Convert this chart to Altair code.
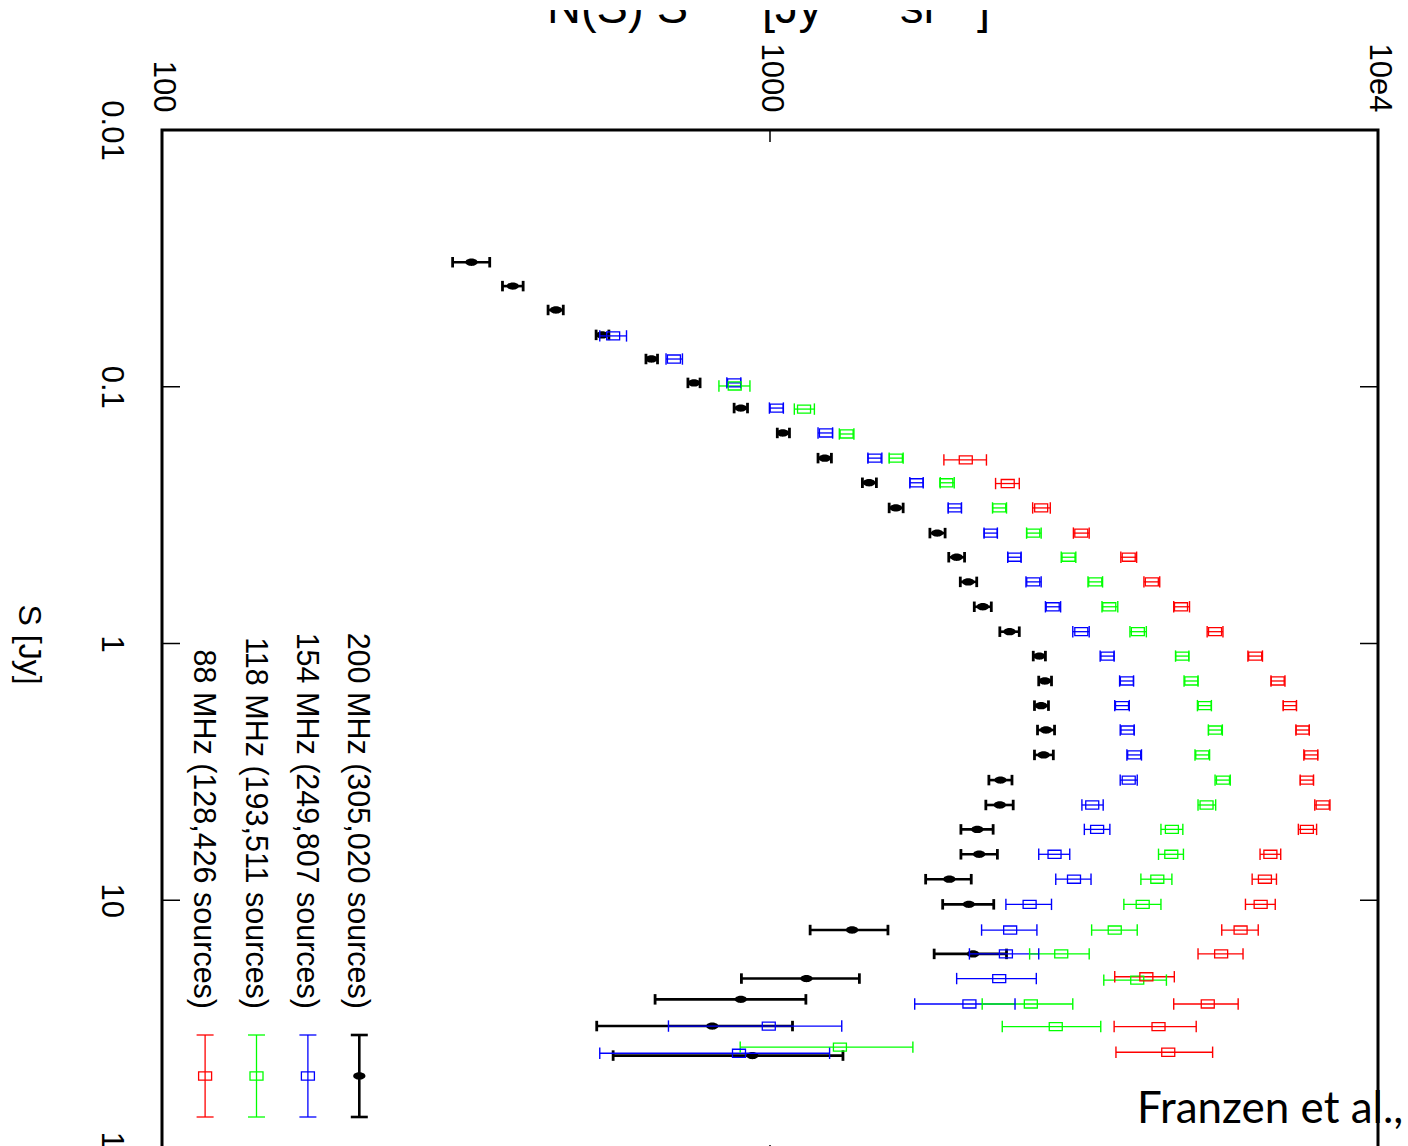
import altair as alt
import numpy as np
import pandas as pd

# Differential source counts (Euclidean-normalised), read as log10 values
BANDS = ["200 MHz", "154 MHz", "118 MHz", "88 MHz"]
SOURCES = ["305,020", "249,807", "193,511", "128,426"]
COLORS = ["#000000", "#0000ff", "#00ff00", "#ff0000"]

# 200 MHz
S200_LOGS = [-1.485, -1.392, -1.299, -1.202, -1.108, -1.015, -0.917, -0.820, -0.722, -0.626,
             -0.528, -0.430, -0.336, -0.240, -0.143, -0.046, 0.049, 0.146, 0.242, 0.337,
             0.434, 0.532, 0.629, 0.724, 0.821, 0.918, 1.016, 1.116, 1.209, 1.305,
             1.386, 1.490, 1.605]
S200_LOGN = [2.509, 2.577, 2.648, 2.724, 2.805, 2.875, 2.952, 3.021, 3.090, 3.163,
             3.207, 3.275, 3.307, 3.326, 3.350, 3.394, 3.443, 3.452, 3.446, 3.454,
             3.450, 3.379, 3.378, 3.341, 3.344, 3.295, 3.327, 3.135, 3.334, 3.060,
             2.952, 2.905, 2.971]
S200_LO = [2.478, 2.560, 2.635, 2.714, 2.796, 2.865, 2.941, 3.012, 3.079, 3.152,
           3.196, 3.263, 3.294, 3.313, 3.336, 3.378, 3.433, 3.442, 3.435, 3.440,
           3.435, 3.360, 3.355, 3.314, 3.314, 3.256, 3.284, 3.066, 3.270, 2.953,
           2.811, 2.715, 2.742]
S200_HI = [2.539, 2.594, 2.660, 2.735, 2.815, 2.885, 2.963, 3.032, 3.101, 3.175,
           3.219, 3.288, 3.320, 3.340, 3.364, 3.410, 3.453, 3.463, 3.458, 3.468,
           3.466, 3.398, 3.400, 3.367, 3.374, 3.331, 3.368, 3.194, 3.389, 3.147,
           3.059, 3.037, 3.120]

# 154 MHz
S154_LOGS = [-1.198, -1.108, -1.015, -0.917, -0.820, -0.722, -0.626, -0.528, -0.430, -0.336,
             -0.240, -0.143, -0.046, 0.049, 0.146, 0.242, 0.337, 0.434, 0.532, 0.629,
             0.724, 0.821, 0.918, 1.016, 1.116, 1.209, 1.305, 1.404, 1.490, 1.596]
S154_LOGN = [2.742, 2.842, 2.941, 3.011, 3.092, 3.172, 3.241, 3.304, 3.363, 3.402,
             3.433, 3.465, 3.512, 3.555, 3.587, 3.579, 3.588, 3.599, 3.590, 3.530,
             3.538, 3.468, 3.500, 3.427, 3.395, 3.388, 3.377, 3.328, 2.998, 2.949]
S154_LO = [2.720, 2.829, 2.929, 2.999, 3.079, 3.161, 3.230, 3.293, 3.352, 3.391,
           3.421, 3.453, 3.498, 3.543, 3.575, 3.567, 3.576, 3.587, 3.576, 3.513,
           3.517, 3.442, 3.470, 3.388, 3.348, 3.328, 3.307, 3.238, 2.833, 2.720]
S154_HI = [2.764, 2.856, 2.952, 3.022, 3.103, 3.184, 3.252, 3.315, 3.374, 3.413,
           3.446, 3.478, 3.525, 3.566, 3.598, 3.591, 3.599, 3.611, 3.604, 3.548,
           3.559, 3.493, 3.528, 3.463, 3.439, 3.442, 3.438, 3.403, 3.118, 3.098]

# 118 MHz
S118_LOGS = [-1.003, -0.913, -0.816, -0.722, -0.626, -0.528, -0.430, -0.336, -0.240, -0.143,
             -0.046, 0.049, 0.146, 0.242, 0.337, 0.434, 0.532, 0.629, 0.724, 0.821,
             0.918, 1.016, 1.116, 1.209, 1.311, 1.404, 1.492, 1.572]
S118_LOGN = [2.942, 3.056, 3.126, 3.207, 3.290, 3.377, 3.433, 3.491, 3.535, 3.558,
             3.605, 3.678, 3.693, 3.715, 3.732, 3.711, 3.745, 3.718, 3.661, 3.660,
             3.637, 3.613, 3.567, 3.479, 3.604, 3.429, 3.470, 3.115]
S118_LO = [2.916, 3.040, 3.114, 3.196, 3.280, 3.366, 3.422, 3.479, 3.523, 3.546,
           3.592, 3.667, 3.681, 3.703, 3.721, 3.699, 3.732, 3.704, 3.643, 3.639,
           3.610, 3.582, 3.529, 3.427, 3.549, 3.349, 3.382, 2.951]
S118_HI = [2.967, 3.073, 3.138, 3.219, 3.303, 3.389, 3.446, 3.503, 3.547, 3.572,
           3.619, 3.689, 3.704, 3.726, 3.744, 3.723, 3.757, 3.733, 3.679, 3.680,
           3.661, 3.643, 3.604, 3.525, 3.652, 3.498, 3.544, 3.235]

# 88 MHz
S88_LOGS = [-0.715, -0.623, -0.528, -0.430, -0.336, -0.240, -0.143, -0.046, 0.049, 0.146,
            0.242, 0.337, 0.434, 0.532, 0.629, 0.724, 0.821, 0.918, 1.016, 1.116,
            1.209, 1.298, 1.404, 1.492, 1.592]
S88_LOGN = [3.322, 3.391, 3.446, 3.512, 3.590, 3.628, 3.676, 3.732, 3.798, 3.835,
            3.855, 3.876, 3.890, 3.883, 3.909, 3.883, 3.823, 3.814, 3.807, 3.774,
            3.742, 3.619, 3.720, 3.639, 3.655]
S88_LO = [3.286, 3.371, 3.432, 3.499, 3.577, 3.615, 3.664, 3.719, 3.786, 3.824,
          3.844, 3.865, 3.878, 3.872, 3.896, 3.869, 3.806, 3.793, 3.782, 3.743,
          3.704, 3.567, 3.664, 3.566, 3.569]
S88_HI = [3.356, 3.410, 3.461, 3.525, 3.603, 3.641, 3.690, 3.745, 3.810, 3.847,
          3.866, 3.887, 3.901, 3.894, 3.921, 3.899, 3.840, 3.833, 3.831, 3.803,
          3.778, 3.665, 3.770, 3.701, 3.728]

S_TICKS = [0.01, 0.1, 1, 10, 100]
N_TICKS = [100, 1000, 10000]

SERIES = [
    (S200_LOGS, S200_LOGN, S200_LO, S200_HI),
    (S154_LOGS, S154_LOGN, S154_LO, S154_HI),
    (S118_LOGS, S118_LOGN, S118_LO, S118_HI),
    (S88_LOGS, S88_LOGN, S88_LO, S88_HI),
]

frames = []
for band, (ls, ln, lo, hi) in zip(BANDS, SERIES):
    frames.append(pd.DataFrame({
        "band": band,
        "S": np.power(10.0, ls),
        "N": np.power(10.0, ln),
        "lo": np.power(10.0, lo),
        "hi": np.power(10.0, hi),
    }))
df = pd.concat(frames, ignore_index=True)
df_black = df[df.band == BANDS[0]]
df_col = df[df.band != BANDS[0]]

W, H = 1216, 1027
LABEL_FONT = "Liberation Sans, Arial"

x_scale = alt.Scale(type="log", domain=[100, 10000], nice=False)
y_scale = alt.Scale(type="log", domain=[0.01, 100], reverse=True, nice=False)
color_scale = alt.Scale(domain=BANDS, range=COLORS)

x_axis = alt.Axis(orient="top", values=N_TICKS, title=None, grid=False, ticks=False, domain=False,
                  labelExpr="datum.value >= 10000 ? '10e4' : format(datum.value, 'd')",
                  labelAngle=90, labelAlign="right", labelBaseline="middle", labelPadding=18,
                  labelOverlap=False, labelFlush=False, labelFont=LABEL_FONT, labelFontSize=31,
                  labelColor="black")
y_axis = alt.Axis(orient="left", values=S_TICKS, title="S [Jy]", grid=False, ticks=False, domain=False,
                  labelExpr="format(datum.value, '~g')",
                  labelAngle=90, labelAlign="center", labelBaseline="middle", labelPadding=52,
                  labelOverlap=False, labelFlush=False, labelFont=LABEL_FONT, labelFontSize=31,
                  labelColor="black",
                  titleAngle=90, titleX=-134, titleY=514, titleAlign="center", titleBaseline="middle",
                  titleFont=LABEL_FONT, titleFontSize=32, titleFontWeight="normal", titleColor="black")

X = alt.X("N:Q", scale=x_scale, axis=x_axis)
X_LO = alt.X("lo:Q", scale=x_scale, axis=x_axis)
X_HI = alt.X("hi:Q", scale=x_scale, axis=x_axis)
Y = alt.Y("S:Q", scale=y_scale, axis=y_axis)
COLOR = alt.Color("band:N", scale=color_scale, legend=None)

ELLIPSE = "M-1,0A1,0.6,0,1,0,1,0A1,0.6,0,1,0,-1,0Z"
BOX = "M-1,-0.62H1V0.62H-1Z"
VBAR = "M0,-1L0,1"

# error bars: black series first, coloured series drawn over it
black_bar = alt.Chart(df_black).mark_rule(strokeWidth=2.6, color="black").encode(
    x=X_LO, x2="hi:Q", y=Y)
black_lo = alt.Chart(df_black).mark_point(shape=VBAR, size=110, strokeWidth=2.8, color="black",
                                          opacity=1).encode(x=X_LO, y=Y)
black_hi = alt.Chart(df_black).mark_point(shape=VBAR, size=110, strokeWidth=2.8, color="black",
                                          opacity=1).encode(x=X_HI, y=Y)
black_dot = alt.Chart(df_black).mark_point(shape=ELLIPSE, size=150, filled=True, color="black",
                                           opacity=1).encode(x=X, y=Y)

col_bar = alt.Chart(df_col).mark_rule(strokeWidth=1.3).encode(
    x=X_LO, x2="hi:Q", y=Y, color=COLOR)
col_lo = alt.Chart(df_col).mark_point(shape=VBAR, size=130, strokeWidth=1.4, opacity=1).encode(
    x=X_LO, y=Y, color=COLOR)
col_hi = alt.Chart(df_col).mark_point(shape=VBAR, size=130, strokeWidth=1.4, opacity=1).encode(
    x=X_HI, y=Y, color=COLOR)
col_box = alt.Chart(df_col).mark_point(shape=BOX, size=169, filled=False, strokeWidth=1.3,
                                       opacity=1).encode(x=X, y=Y, color=COLOR)

# inward ticks on the frame
tick_s = pd.DataFrame({"S": [0.1, 1, 10]})
tick_n = pd.DataFrame({"N": [1000]})
left_ticks = alt.Chart(tick_s).mark_rule(color="black", strokeWidth=1.5).encode(
    y=Y, x=alt.value(0), x2=alt.value(18))
right_ticks = alt.Chart(tick_s).mark_rule(color="black", strokeWidth=1.5).encode(
    y=Y, x=alt.value(W - 18), x2=alt.value(W))
top_ticks = alt.Chart(tick_n).mark_rule(color="black", strokeWidth=1.5).encode(
    x=X, y=alt.value(0), y2=alt.value(12))
bottom_ticks = alt.Chart(tick_n).mark_rule(color="black", strokeWidth=1.5).encode(
    x=X, y=alt.value(H - 12), y2=alt.value(H))

# key, drawn in the lower-left corner of the frame
legend_layers = []
for i, (band, src, col) in enumerate(zip(BANDS, SOURCES, COLORS)):
    xc = 197.3 - 51.4 * i
    lab = pd.DataFrame({"t": [f"{band} ({src} sources)"]})
    legend_layers.append(alt.Chart(lab).mark_text(
        angle=90, align="right", baseline="middle", font=LABEL_FONT, fontSize=30.5, color="black"
    ).encode(x=alt.value(xc - 2), y=alt.value(879), text="t:N"))
    w = 2.6 if i == 0 else 1.3
    legend_layers.append(alt.Chart(lab).mark_rule(color=col, strokeWidth=w).encode(
        x=alt.value(xc), y=alt.value(905), y2=alt.value(987)))
    for yy in (905, 987):
        legend_layers.append(alt.Chart(lab).mark_rule(color=col, strokeWidth=w).encode(
            x=alt.value(xc - 8.5), x2=alt.value(xc + 8.5), y=alt.value(yy)))
    if i == 0:
        legend_layers.append(alt.Chart(lab).mark_point(
            shape=ELLIPSE, size=150, filled=True, color=col, opacity=1
        ).encode(x=alt.value(xc), y=alt.value(946)))
    else:
        legend_layers.append(alt.Chart(lab).mark_point(
            shape=BOX, size=169, filled=False, strokeWidth=1.3, color=col, opacity=1
        ).encode(x=alt.value(xc), y=alt.value(946)))

# y-axis title of the source counts, set horizontally along the top edge
TITLE_FONT = "Liberation Sans, Arial"
title_parts = [
    ("N(S) S", 385, -107, 47),
    ("2.5", 530, -131, 34),
    ("[Jy", 600, -107, 47),
    ("1.5", 662, -131, 34),
    ("sr", 738, -107, 47),
    ("\u22121", 776, -131, 34),
    ("]", 815, -107, 47),
]
title_layers = []
for txt, tx, ty, fs in title_parts:
    title_layers.append(alt.Chart(pd.DataFrame({"t": [txt]})).mark_text(
        align="left", baseline="alphabetic", font=TITLE_FONT, fontSize=fs, color="black"
    ).encode(x=alt.value(tx), y=alt.value(ty), text="t:N"))
title_mask = alt.Chart(pd.DataFrame({"t": [0]})).mark_rect(color="white").encode(
    x=alt.value(360), x2=alt.value(860), y=alt.value(-145), y2=alt.value(-120))

credit = alt.Chart(pd.DataFrame({"t": ["Franzen et al.,"]})).mark_text(
    align="left", baseline="alphabetic", font="Lato, Open Sans", fontSize=44, color="black"
).encode(x=alt.value(975), y=alt.value(993), text="t:N")

chart = alt.layer(
    black_bar, black_lo, black_hi, black_dot,
    col_bar, col_lo, col_hi, col_box,
    left_ticks, right_ticks, top_ticks, bottom_ticks,
    *legend_layers, *title_layers, title_mask, credit,
).properties(
    width=W, height=H,
    autosize=alt.AutoSizeParams(type="none"),
    padding={"left": 162, "top": 130, "right": 30, "bottom": -11},
).configure(
    background="white",
    view=alt.ViewConfig(stroke="black", strokeWidth=3),
)

chart.save("out.html", embed_options={"renderer": "svg", "actions": False})
